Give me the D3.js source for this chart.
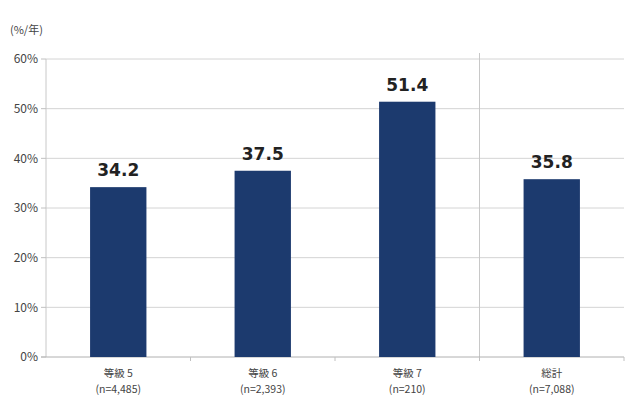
<!DOCTYPE html>
<html><head><meta charset="utf-8">
<script src="https://cdn.jsdelivr.net/npm/d3@7"></script>
<style>
body{margin:0;background:#fff;}
text{font-family:"Noto Sans CJK JP","Noto Sans",sans-serif;}
text.val{font-family:"DejaVu Sans",sans-serif;}
</style></head>
<body><svg id="c" width="640" height="406"></svg>
<script>
const categories = ["等級 5","等級 6","等級 7","総計"];
const nLabels = ["(n=4,485)","(n=2,393)","(n=210)","(n=7,088)"];
const values = [34.2, 37.5, 51.4, 35.8];
const yTicks = [0,10,20,30,40,50,60];
const unitLabel = "(%/年)";

const svg = d3.select("#c");
const L = 46, R = 624, T = 59, B = 357;
const x = d3.scaleBand().domain(categories).range([L,R]).paddingInner(0.61).paddingOuter(0.305);
const y = d3.scaleLinear().domain([0,60]).range([B,T]);

svg.append("g").selectAll("line").data(yTicks.filter(d=>d>0)).join("line")
  .attr("x1",L).attr("x2",R).attr("y1",d=>y(d)).attr("y2",d=>y(d))
  .attr("stroke","#d4d4d4").attr("stroke-width",1);
svg.append("line").attr("x1",L).attr("x2",L).attr("y1",T).attr("y2",B).attr("stroke","#c8c8c8");
const step = x.step();
const sepX = L + 3*step;
svg.append("line").attr("x1",sepX).attr("x2",sepX).attr("y1",T-6).attr("y2",B).attr("stroke","#c8c8c8");
svg.append("line").attr("x1",L-5).attr("x2",R).attr("y1",B).attr("y2",B).attr("stroke","#b0b0b0");
svg.append("g").selectAll("line").data([1,2,3,4]).join("line")
  .attr("x1",d=>L+d*step).attr("x2",d=>L+d*step).attr("y1",B).attr("y2",B+4).attr("stroke","#c0c0c0");
svg.append("g").selectAll("line").data(yTicks).join("line")
  .attr("x1",L-5).attr("x2",L).attr("y1",d=>y(d)).attr("y2",d=>y(d)).attr("stroke","#c0c0c0");
svg.append("g").selectAll("text").data(yTicks).join("text")
  .attr("x",38).attr("y",d=>y(d)).attr("dy","0.35em").attr("text-anchor","end")
  .attr("font-size",12).attr("fill","#444").text(d=>d+"%");

svg.append("g").selectAll("rect").data(values).join("rect")
  .attr("x",(d,i)=>x(categories[i])).attr("width",x.bandwidth())
  .attr("y",d=>y(d)).attr("height",d=>B-y(d)).attr("fill","#1c3a6e");
svg.append("g").selectAll("text").data(values).join("text")
  .attr("class","val")
  .attr("x",(d,i)=>x(categories[i])+x.bandwidth()/2).attr("y",d=>y(d)-11)
  .attr("text-anchor","middle").attr("font-size",17).attr("font-weight","bold")
  .attr("fill","#222").text(d=>d.toFixed(1));
svg.append("g").selectAll("text").data(categories).join("text")
  .attr("x",d=>x(d)+x.bandwidth()/2).attr("y",377)
  .attr("text-anchor","middle").attr("font-size",10.5).attr("fill","#444").text(d=>d);
svg.append("g").selectAll("text").data(nLabels).join("text")
  .attr("x",(d,i)=>x(categories[i])+x.bandwidth()/2).attr("y",393)
  .attr("text-anchor","middle").attr("font-size",10.5).attr("fill","#444").text(d=>d);
svg.append("text").attr("x",10).attr("y",34).attr("font-size",11).attr("fill","#444").text(unitLabel);
</script></body></html>
